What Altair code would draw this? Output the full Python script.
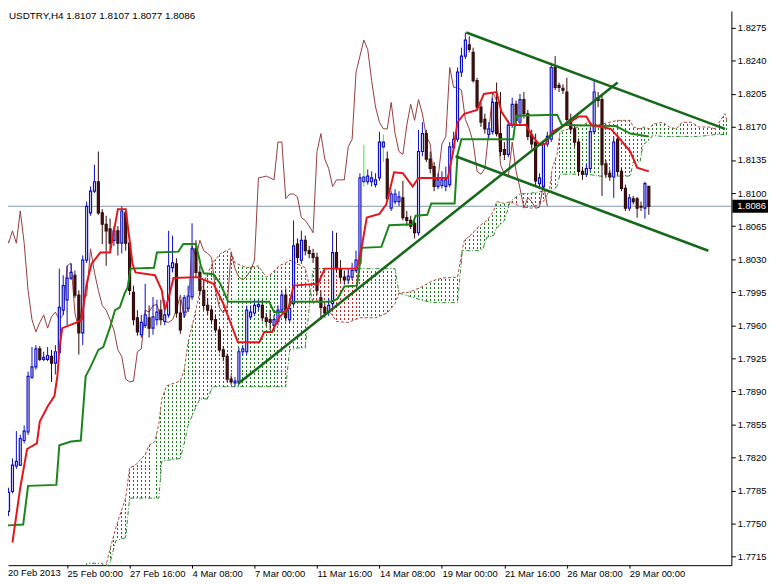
import math
import altair as alt
import numpy as np
import pandas as pd

# ---------------- data ----------------
symbol = "USDTRY,H4"
last_ohlc = [1.8107, 1.8107, 1.8077, 1.8086]

bar_open = [1.7730, 1.7763, 1.7784, 1.7811, 1.7812, 1.7838, 1.7847, 1.7905, 1.7916, 1.7935,
            1.7924, 1.7924, 1.7927, 1.7920, 1.7931, 1.7976, 1.7987, 1.8010, 1.8013, 1.7992,
            1.7952, 1.8029, 1.8079, 1.8102, 1.8112, 1.8079, 1.8067, 1.8062, 1.8050, 1.8060,
            1.8047, 1.8079, 1.8047, 1.7995, 1.7968, 1.7950, 1.7960, 1.7968, 1.7957, 1.7966,
            1.7976, 1.7964, 1.7971, 1.8021, 1.8025, 1.7973, 1.7974, 1.7978, 1.7990, 1.8041,
            1.8016, 1.7997, 1.7981, 1.7976, 1.7966, 1.7955, 1.7934, 1.7927, 1.7903, 1.7899,
            1.7900, 1.7932, 1.7932, 1.7969, 1.7973, 1.7980, 1.7981, 1.7968, 1.7966, 1.7960,
            1.7964, 1.7976, 1.7992, 1.7966, 1.7983, 1.8046, 1.8029, 1.8050, 1.8039, 1.8036,
            1.8032, 1.7989, 1.7979, 1.7974, 1.7983, 1.8037, 1.8020, 1.8011, 1.8008, 1.8011,
            1.8018, 1.8026, 1.8112, 1.8112, 1.8112, 1.8109, 1.8116, 1.8149, 1.8136, 1.8084,
            1.8091, 1.8091, 1.8095, 1.8074, 1.8071, 1.8068, 1.8058, 1.8144, 1.8163, 1.8136,
            1.8128, 1.8107, 1.8108, 1.8107, 1.8109, 1.8148, 1.8157, 1.8228, 1.8245, 1.8257,
            1.8249, 1.8219, 1.8191, 1.8178, 1.8162, 1.8165, 1.8196, 1.8163, 1.8146, 1.8141,
            1.8172, 1.8194, 1.8175, 1.8199, 1.8184, 1.8162, 1.8154, 1.8110, 1.8107, 1.8152,
            1.8157, 1.8233, 1.8214, 1.8211, 1.8207, 1.8178, 1.8168, 1.8154, 1.8123, 1.8120,
            1.8126, 1.8165, 1.8201, 1.8199, 1.8131, 1.8121, 1.8117, 1.8157, 1.8123, 1.8105,
            1.8084, 1.8094, 1.8094, 1.8086, 1.8084, 1.8107]
bar_high = [1.7767, 1.7788, 1.7819, 1.7848, 1.7844, 1.7854, 1.7911, 1.7937, 1.7939, 1.7938,
            1.7932, 1.7937, 1.7934, 1.7939, 1.8020, 1.8013, 1.8023, 1.8025, 1.8018, 1.7997,
            1.8034, 1.8091, 1.8107, 1.8130, 1.8144, 1.8083, 1.8076, 1.8073, 1.8065, 1.8065,
            1.8086, 1.8083, 1.8055, 1.8002, 1.7976, 1.7971, 1.8004, 1.7981, 1.7990, 1.7987,
            1.7987, 1.7987, 1.8060, 1.8055, 1.8031, 1.7987, 1.7992, 1.8002, 1.8068, 1.8050,
            1.8023, 1.8008, 1.7989, 1.7981, 1.7971, 1.7958, 1.7938, 1.7930, 1.7907, 1.7905,
            1.7936, 1.7939, 1.7981, 1.7981, 1.7987, 1.7987, 1.7987, 1.7973, 1.7976, 1.7971,
            1.7981, 1.7997, 1.7999, 1.7987, 1.8071, 1.8052, 1.8060, 1.8055, 1.8044, 1.8041,
            1.8037, 1.7997, 1.7983, 1.7989, 1.8060, 1.8058, 1.8029, 1.8018, 1.8020, 1.8026,
            1.8039, 1.8121, 1.8151, 1.8125, 1.8123, 1.8121, 1.8165, 1.8162, 1.8144, 1.8102,
            1.8104, 1.8102, 1.8113, 1.8081, 1.8076, 1.8073, 1.8167, 1.8175, 1.8167, 1.8144,
            1.8133, 1.8121, 1.8123, 1.8128, 1.8154, 1.8165, 1.8233, 1.8254, 1.8270, 1.8266,
            1.8254, 1.8222, 1.8196, 1.8184, 1.8175, 1.8201, 1.8217, 1.8207, 1.8154, 1.8177,
            1.8201, 1.8198, 1.8205, 1.8207, 1.8188, 1.8167, 1.8163, 1.8121, 1.8156, 1.8165,
            1.8238, 1.8245, 1.8217, 1.8215, 1.8222, 1.8184, 1.8173, 1.8158, 1.8128, 1.8131,
            1.8170, 1.8219, 1.8207, 1.8205, 1.8135, 1.8125, 1.8160, 1.8162, 1.8127, 1.8109,
            1.8099, 1.8097, 1.8096, 1.8091, 1.8112, 1.8107]
bar_low = [1.7725, 1.7758, 1.7782, 1.7808, 1.7811, 1.7835, 1.7844, 1.7903, 1.7913, 1.7922,
           1.7922, 1.7922, 1.7900, 1.7908, 1.7929, 1.7971, 1.7960, 1.8008, 1.7989, 1.7929,
           1.7939, 1.8026, 1.8076, 1.8100, 1.8077, 1.8046, 1.8023, 1.8039, 1.8044, 1.8034,
           1.8036, 1.8039, 1.7992, 1.7960, 1.7949, 1.7947, 1.7957, 1.7947, 1.7950, 1.7960,
           1.7960, 1.7960, 1.7968, 1.8016, 1.7968, 1.7951, 1.7968, 1.7974, 1.7987, 1.8010,
           1.7992, 1.7976, 1.7971, 1.7961, 1.7952, 1.7931, 1.7922, 1.7900, 1.7897, 1.7895,
           1.7897, 1.7928, 1.7929, 1.7966, 1.7970, 1.7976, 1.7964, 1.7959, 1.7955, 1.7955,
           1.7960, 1.7973, 1.7964, 1.7963, 1.7980, 1.8026, 1.8025, 1.8034, 1.8031, 1.8026,
           1.7992, 1.7966, 1.7968, 1.7970, 1.7980, 1.8016, 1.8006, 1.8003, 1.8004, 1.8008,
           1.8016, 1.8023, 1.8107, 1.8109, 1.8107, 1.8106, 1.8113, 1.8133, 1.8092, 1.8081,
           1.8088, 1.8086, 1.8071, 1.8065, 1.8062, 1.8052, 1.8055, 1.8139, 1.8133, 1.8121,
           1.8102, 1.8104, 1.8105, 1.8102, 1.8106, 1.8144, 1.8154, 1.8223, 1.8242, 1.8249,
           1.8217, 1.8188, 1.8170, 1.8163, 1.8157, 1.8162, 1.8160, 1.8139, 1.8135, 1.8138,
           1.8169, 1.8173, 1.8172, 1.8179, 1.8156, 1.8147, 1.8107, 1.8105, 1.8104, 1.8149,
           1.8154, 1.8209, 1.8207, 1.8205, 1.8175, 1.8163, 1.8149, 1.8118, 1.8114, 1.8117,
           1.8123, 1.8162, 1.8191, 1.8097, 1.8116, 1.8113, 1.8095, 1.8119, 1.8102, 1.8081,
           1.8081, 1.8088, 1.8074, 1.8081, 1.8073, 1.8077]
bar_close = [1.7761, 1.7783, 1.7812, 1.7816, 1.7840, 1.7848, 1.7906, 1.7916, 1.7935, 1.7924,
             1.7926, 1.7928, 1.7920, 1.7932, 1.7979, 1.8002, 1.8010, 1.8016, 1.7992, 1.7952,
             1.8029, 1.8086, 1.8102, 1.8112, 1.8079, 1.8067, 1.8060, 1.8047, 1.8060, 1.8047,
             1.8081, 1.8047, 1.7997, 1.7966, 1.7953, 1.7963, 1.7971, 1.7957, 1.7969, 1.7974,
             1.7966, 1.7971, 1.8023, 1.8026, 1.7973, 1.7955, 1.7989, 1.7991, 1.8041, 1.8016,
             1.7997, 1.7981, 1.7976, 1.7966, 1.7955, 1.7934, 1.7927, 1.7903, 1.7900, 1.7901,
             1.7932, 1.7935, 1.7976, 1.7974, 1.7981, 1.7982, 1.7968, 1.7964, 1.7963, 1.7966,
             1.7976, 1.7992, 1.7968, 1.7978, 1.8044, 1.8032, 1.8050, 1.8039, 1.8036, 1.8032,
             1.7997, 1.7979, 1.7973, 1.7981, 1.8037, 1.8020, 1.8011, 1.8008, 1.8012, 1.8018,
             1.8029, 1.8116, 1.8117, 1.8118, 1.8116, 1.8114, 1.8154, 1.8154, 1.8094, 1.8099,
             1.8099, 1.8096, 1.8074, 1.8071, 1.8065, 1.8058, 1.8144, 1.8163, 1.8136, 1.8126,
             1.8107, 1.8114, 1.8114, 1.8114, 1.8149, 1.8157, 1.8228, 1.8245, 1.8262, 1.8252,
             1.8219, 1.8191, 1.8175, 1.8168, 1.8168, 1.8196, 1.8163, 1.8144, 1.8141, 1.8172,
             1.8194, 1.8177, 1.8199, 1.8184, 1.8160, 1.8152, 1.8113, 1.8116, 1.8152, 1.8160,
             1.8233, 1.8212, 1.8212, 1.8209, 1.8178, 1.8168, 1.8154, 1.8123, 1.8120, 1.8126,
             1.8165, 1.8207, 1.8198, 1.8130, 1.8120, 1.8117, 1.8154, 1.8123, 1.8105, 1.8084,
             1.8095, 1.8091, 1.8084, 1.8085, 1.8110, 1.8086]
lime_wick_bars = [92, 97]

# Tenkan-sen (red) vertices
tenkan_bar = [2, 4, 5.75, 8.25, 9, 11, 12.75, 13.5, 14, 14.75, 18.5, 19.75, 21, 22.25, 24.5,
              27, 29, 31, 32.75, 33.5, 38.5, 40.25, 41, 42, 43.25, 49.5, 53.5, 56, 59.75,
              65.25, 66.5, 68.5, 70.25, 72.75, 74, 80.25, 82, 90.25, 91.5, 92.75, 96, 97.75,
              99.75, 102, 104.5, 106, 113.5, 114.75, 116, 117.75, 121, 122.75, 126, 127.25,
              129.5, 133.5, 135.25, 137, 138.5, 140.25, 143.5, 147, 149, 150.25, 155.25, 157,
              160.25, 162, 165]
tenkan_val = [1.7730, 1.7788, 1.7829, 1.7835, 1.7858, 1.7874, 1.7885, 1.7906, 1.7934, 1.7957,
              1.7963, 1.7966, 1.8004, 1.8025, 1.8037, 1.8037, 1.8083, 1.8083, 1.8025, 1.8016,
              1.8013, 1.7997, 1.7976, 1.7989, 1.8010, 1.8011, 1.8004, 1.7983, 1.7942, 1.7942,
              1.7953, 1.7953, 1.7968, 1.7979, 1.8002, 1.8004, 1.8020, 1.8020, 1.8044, 1.8074,
              1.8078, 1.8088, 1.8122, 1.8121, 1.8107, 1.8116, 1.8116, 1.8141, 1.8175, 1.8184,
              1.8188, 1.8205, 1.8207, 1.8186, 1.8172, 1.8172, 1.8160, 1.8151, 1.8152, 1.8165,
              1.8172, 1.8181, 1.8181, 1.8172, 1.8168, 1.8160, 1.8144, 1.8127, 1.8123]

# Kijun-sen (green) vertices
kijun_bar = [0.25, 4.75, 6, 13.25, 14, 17, 19.5, 20.75, 22, 24, 25.25, 27, 28.25, 29.5, 30.75,
             31.5, 32.25, 38.25, 39, 44.5, 45.75, 49, 50.25, 51, 53.5, 55.25, 57.25, 67.75, 69,
             72.25, 73.5, 83.5, 85.25, 87, 90.25, 91.5, 96.5, 98.5, 104.5, 105.25, 108.25,
             109.25, 115.25, 116, 117, 130.25, 131, 141.5, 142.75, 156.5, 160.25, 165]
kijun_val = [1.7748, 1.7749, 1.7790, 1.7791, 1.7833, 1.7837, 1.7838, 1.7906, 1.7916, 1.7934,
             1.7937, 1.7958, 1.7976, 1.7979, 1.7994, 1.8000, 1.8020, 1.8021, 1.8037, 1.8038,
             1.8046, 1.8046, 1.8023, 1.8015, 1.8014, 1.8004, 1.7985, 1.7985, 1.7974, 1.7974,
             1.7985, 1.7985, 1.7988, 1.8001, 1.8002, 1.8042, 1.8043, 1.8066, 1.8067, 1.8076,
             1.8077, 1.8089, 1.8089, 1.8141, 1.8157, 1.8157, 1.8182, 1.8183, 1.8172, 1.8171,
             1.8163, 1.8160]

# Kumo (Senkou span A / B) vertices
kumo_bar = [20.5, 21, 25, 25.75, 27, 28.5, 30, 31, 32, 33.5, 36, 37, 38.5, 39.5, 40.25, 41.5,
            45, 46, 47, 48.5, 50, 52, 53.25, 55.25, 57.75, 59, 62, 65, 67, 68.5, 70.25, 72, 73,
            75, 77, 78.4, 79, 80, 83, 85, 88, 91, 95, 98, 100, 101, 103.5, 106.5, 109.5, 112,
            116, 117.25, 117.75, 119.75, 121.5, 122.5, 123.5, 125.25, 126, 128, 129.5, 132, 135,
            138, 139.5, 140.25, 141.5, 142.25, 144.5, 147, 149.5, 152, 157, 160.25, 161, 162.75,
            163.5, 165.25, 166, 168.5, 170.25, 172, 173.5, 176, 177.75, 180.25, 182, 183, 184.5,
            185]
span_a = [1.7695, 1.7695, 1.7697, 1.7702, 1.7723, 1.7746, 1.7765, 1.7777, 1.7809, 1.7812,
          1.7823, 1.7833, 1.7837, 1.7856, 1.7882, 1.7896, 1.7901, 1.7913, 1.7942, 1.7968,
          1.7995, 1.8015, 1.8026, 1.8036, 1.8041, 1.8026, 1.8021, 1.8023, 1.8011, 1.8015,
          1.8023, 1.8026, 1.8029, 1.8025, 1.8021, 1.7995, 1.7983, 1.7987, 1.7976, 1.7964,
          1.7963, 1.7968, 1.7968, 1.7973, 1.7983, 1.7994, 1.7995, 1.8000, 1.8007, 1.8010,
          1.8011, 1.8041, 1.8050, 1.8057, 1.8065, 1.8068, 1.8071, 1.8081, 1.8091, 1.8089,
          1.8091, 1.8086, 1.8084, 1.8091, 1.8102, 1.8126, 1.8141, 1.8165, 1.8168, 1.8170,
          1.8175, 1.8172, 1.8177, 1.8177, 1.8170, 1.8168, 1.8170, 1.8168, 1.8173, 1.8175,
          1.8170, 1.8168, 1.8175, 1.8175, 1.8170, 1.8170, 1.8168, 1.8175, 1.8184, 1.8177]
span_b = [1.7695, 1.7708, 1.7708, 1.7702, 1.7709, 1.7732, 1.7734, 1.7735, 1.7777, 1.7777,
          1.7777, 1.7777, 1.7777, 1.7777, 1.7816, 1.7817, 1.7819, 1.7835, 1.7854, 1.7869,
          1.7882, 1.7882, 1.7895, 1.7895, 1.7895, 1.7895, 1.7895, 1.7895, 1.7895, 1.7895,
          1.7895, 1.7895, 1.7934, 1.7936, 1.7936, 1.7995, 1.8020, 1.8020, 1.8020, 1.8020,
          1.8020, 1.8020, 1.8020, 1.8020, 1.8020, 1.7994, 1.7991, 1.7987, 1.7984, 1.7984,
          1.7984, 1.8039, 1.8039, 1.8039, 1.8039, 1.8041, 1.8053, 1.8055, 1.8063, 1.8071,
          1.8091, 1.8099, 1.8100, 1.8102, 1.8102, 1.8102, 1.8107, 1.8120, 1.8120, 1.8120,
          1.8120, 1.8118, 1.8118, 1.8118, 1.8133, 1.8133, 1.8151, 1.8157, 1.8161, 1.8160,
          1.8160, 1.8160, 1.8160, 1.8160, 1.8160, 1.8161, 1.8162, 1.8162, 1.8162, 1.8162]

# hand-drawn trend lines
trend_bar0 = [59.75, 118.25, 115.5]
trend_val0 = [1.7898, 1.8270, 1.8139]
trend_bar1 = [157, 184.5, 180.25]
trend_val1 = [1.8217, 1.8168, 1.8039]

# axes
date_bars = [0, 16, 32, 48, 64, 80, 96, 112, 128, 144, 160]
date_labels = ["20 Feb 2013", "25 Feb 00:00", "27 Feb 16:00", "4 Mar 08:00", "7 Mar 00:00",
               "11 Mar 16:00", "14 Mar 08:00", "19 Mar 00:00", "21 Mar 16:00", "26 Mar 08:00",
               "29 Mar 00:00"]
price_ticks = [1.7715, 1.7750, 1.7785, 1.7820, 1.7855, 1.7890, 1.7925, 1.7960, 1.7995, 1.8030,
               1.8065, 1.8100, 1.8135, 1.8170, 1.8205, 1.8240, 1.8275]
chikou_shift = 26

# ---------------- styling ----------------
W, H = 731, 560
X_DOMAIN = [2.125, 184.875]
Y_DOMAIN = [1.77060, 1.82928]
PX_PER_BAR = W / (X_DOMAIN[1] - X_DOMAIN[0])
PX_PER_PRICE = H / (Y_DOMAIN[1] - Y_DOMAIN[0])
FONT = "Liberation Sans"

BLUE = "#0c0cc4"
BEAR_FILL = "#4e1414"
BEAR_EDGE = "#300a0a"
LIME = "#3ce63c"
RED = "#e3161b"
KIJUN = "#1a861a"
CHIKOU = "#963c3c"
SPAN_A_COL = "#b04a3c"
SPAN_B_COL = "#2d8b2d"
HATCH_G = "#167a16"
HATCH_R = "#bf2626"
TREND = "#17691a"
PRICE_LINE = "#8797a8"
CLEAR = "rgba(255,255,255,0)"

xs = alt.Scale(domain=X_DOMAIN, nice=False, zero=False)
ys = alt.Scale(domain=Y_DOMAIN, nice=False, zero=False)

label_expr = ("[" + ",".join("'%s'" % s for s in date_labels) + "][indexof(["
              + ",".join(str(b) for b in date_bars) + "], datum.value)]")
x_axis = alt.Axis(orient="bottom", values=date_bars[1:], labelExpr=label_expr, title=None,
                  grid=False, tickSize=3, labelAlign="left", labelBaseline="top",
                  labelPadding=0, labelFont=FONT, labelFontSize=9.5,
                  labelColor="black", domainColor="black", tickColor="black",
                  labelOverlap=False, labelFlush=False)
y_axis = alt.Axis(orient="right", values=price_ticks, format=".4f", title=None, grid=False,
                  tickSize=4, labelPadding=2, labelFont=FONT, labelFontSize=9.5,
                  labelColor="black", domainColor="black", tickColor="black",
                  labelOverlap=False, labelFlush=False)


def X(field):
    return alt.X(field, type="quantitative", scale=xs, axis=x_axis)


def Y(field):
    return alt.Y(field, type="quantitative", scale=ys, axis=y_axis)


def gstop(color, off):
    return alt.GradientStop(color=color, offset=round(min(1.0, max(0.0, off)), 6))


def column_hatch(s, e, color):
    span = e - s
    h = 0.5 / (PX_PER_BAR * span)
    stops = [gstop(CLEAR, 0)]
    for k in range(math.ceil(s), math.floor(e) + 1):
        r = (k - s) / span
        stops += [gstop(CLEAR, r - h), gstop(color, r - h), gstop(color, r + h), gstop(CLEAR, r + h)]
    stops.append(gstop(CLEAR, 1))
    return alt.LinearGradient(gradient="linear", stops=stops, x1=0, x2=1, y1=0, y2=0)


def dot_breaks(top, bottom):
    hpx = (top - bottom) * PX_PER_PRICE
    stops = [gstop(CLEAR, 0)]
    m = 0
    while m * 4 < hpx:
        y0 = m * 4 / hpx
        y1 = (m * 4 + 2) / hpx
        stops += [gstop(CLEAR, y0), gstop("#ffffff", y0), gstop("#ffffff", y1), gstop(CLEAR, y1)]
        m += 1
    stops.append(gstop(CLEAR, 1))
    return alt.LinearGradient(gradient="linear", stops=stops, x1=0, x2=0, y1=0, y2=1)


# ---------------- frames ----------------
candles = pd.DataFrame({"i": np.arange(len(bar_open)), "o": bar_open, "h": bar_high,
                        "l": bar_low, "c": bar_close})
candles["dir"] = np.where(candles["c"] >= candles["o"], "up", "down")
candles["wick"] = np.where(candles["i"].isin(lime_wick_bars), "lime", candles["dir"])

tenkan = pd.DataFrame({"i": tenkan_bar, "v": tenkan_val})
kijun = pd.DataFrame({"i": kijun_bar, "v": kijun_val})
chikou = pd.DataFrame({"i": candles["i"] - chikou_shift, "v": bar_close})
kumo = pd.DataFrame({"i": kumo_bar, "a": span_a, "b": span_b})
trends = pd.DataFrame({"b0": trend_bar0, "v0": trend_val0, "b1": trend_bar1, "v1": trend_val1})
last = pd.DataFrame({"v": [last_ohlc[3]], "t": ["%.4f" % last_ohlc[3]]})

# split the cloud at the crossings of span A and span B
segments = []
cur = [0]
for k in range(1, len(kumo)):
    cur.append(k)
    if kumo["a"][k] == kumo["b"][k] and k != len(kumo) - 1:
        segments.append(cur)
        cur = [k]
segments.append(cur)

layers = []
for seg in segments:
    part = kumo.iloc[seg]
    bullish = (part["a"] - part["b"]).sum() > 0
    col = HATCH_G if bullish else HATCH_R
    s, e = float(part["i"].min()), float(part["i"].max())
    top = float(max(part["a"].max(), part["b"].max()))
    bot = float(min(part["a"].min(), part["b"].min()))
    layers.append(alt.Chart(part).mark_area(fill=column_hatch(s, e, col), opacity=1, clip=True,
                                            strokeWidth=0)
                  .encode(x=X("i"), y=Y("a"), y2="b"))
    layers.append(alt.Chart(part).mark_area(fill=dot_breaks(top, bot), opacity=1, clip=True,
                                            strokeWidth=0)
                  .encode(x=X("i"), y=Y("a"), y2="b"))

span_a_line = alt.Chart(kumo).mark_line(color=SPAN_A_COL, strokeWidth=1, strokeDash=[3, 2],
                                        clip=True).encode(x=X("i"), y=Y("a"))
span_b_line = alt.Chart(kumo).mark_line(color=SPAN_B_COL, strokeWidth=1, strokeDash=[4, 2, 1, 2],
                                        clip=True).encode(x=X("i"), y=Y("b"))
price_line = alt.Chart(last).mark_rule(color=PRICE_LINE, strokeWidth=1, clip=True).encode(y=Y("v"))
chikou_line = alt.Chart(chikou).mark_line(color=CHIKOU, strokeWidth=1, clip=True).encode(
    x=X("i"), y=Y("v"))
wicks = alt.Chart(candles).mark_rule(strokeWidth=1, clip=True).encode(
    x=X("i"), y=Y("l"), y2="h",
    color=alt.Color("wick:N", scale=alt.Scale(domain=["up", "down", "lime"],
                                              range=[BLUE, BEAR_EDGE, LIME]), legend=None))
bodies = alt.Chart(candles).mark_bar(size=2, strokeWidth=1.2, clip=True).encode(
    x=X("i"), y=Y("o"), y2="c",
    fill=alt.Fill("dir:N", scale=alt.Scale(domain=["up", "down"], range=["#ffffff", BEAR_FILL]),
                  legend=None),
    stroke=alt.Stroke("dir:N", scale=alt.Scale(domain=["up", "down"], range=[BLUE, BEAR_EDGE]),
                      legend=None))
kijun_line = alt.Chart(kijun).mark_line(color=KIJUN, strokeWidth=2, clip=True).encode(
    x=X("i"), y=Y("v"))
tenkan_line = alt.Chart(tenkan).mark_line(color=RED, strokeWidth=2, clip=True).encode(
    x=X("i"), y=Y("v"))
trend_lines = alt.Chart(trends).mark_rule(color=TREND, strokeWidth=2.6, clip=True).encode(
    x=X("b0"), x2="b1", y=Y("v0"), y2="v1")
price_box = alt.Chart(last).mark_rule(color="black", strokeWidth=13).encode(
    y=Y("v"), x=alt.value(W + 1), x2=alt.value(W + 37))
price_text = alt.Chart(last).mark_text(align="left", baseline="middle", color="white",
                                       font=FONT, fontSize=9.5).encode(
    y=Y("v"), x=alt.value(W + 6), text="t:N")
header = alt.Chart(pd.DataFrame({"t": [symbol + "  " + " ".join("%.4f" % v for v in last_ohlc)]})
                   ).mark_text(align="left", baseline="top", font=FONT, fontSize=10,
                               color="black").encode(x=alt.value(1), y=alt.value(0), text="t:N")
first_date = alt.Chart(pd.DataFrame({"t": [date_labels[0]]})).mark_text(
    align="left", baseline="top", font=FONT, fontSize=9.5, color="black").encode(
    x=alt.value(0), y=alt.value(H + 3), text="t:N")

layers += [span_a_line, span_b_line, price_line, chikou_line, wicks, bodies, kijun_line,
           tenkan_line, trend_lines, price_box, price_text, header, first_date]

chart = alt.layer(*layers).properties(
    width=W, height=H, background="white",
    autosize=alt.AutoSizeParams(type="none"),
    padding={"left": 0, "top": 0, "right": 37, "bottom": 16},
).configure_view(stroke=None)

chart.save("out.html", embed_options={"renderer": "svg", "actions": False})
